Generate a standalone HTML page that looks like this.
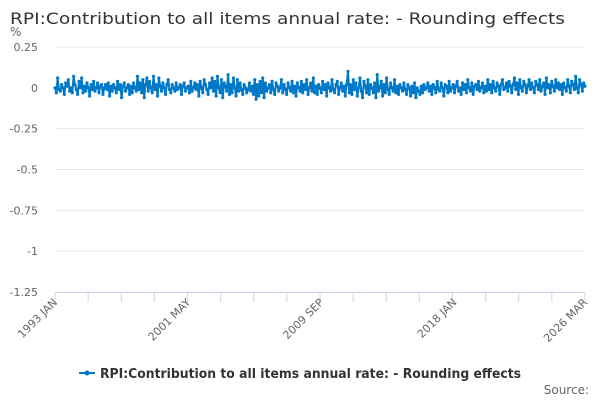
<!DOCTYPE html>
<html><head><meta charset="utf-8"><style>
body{margin:0;background:#fff;}
svg{display:block;font-family:"DejaVu Sans","Liberation Sans",sans-serif;}
</style></head><body>
<svg id="chart" width="600" height="400" viewBox="0 0 600 400">
<text x="10" y="24" font-size="16" fill="#333" textLength="555" lengthAdjust="spacingAndGlyphs">RPI:Contribution to all items annual rate: - Rounding effects</text>
<text x="10" y="36" font-size="12" fill="#666">%</text>
<g id="grid"></g><g id="xaxis"></g><g id="series"></g>
<g>
<line x1="79" y1="373" x2="95" y2="373" stroke="#0078c8" stroke-width="2"/>
<circle cx="87" cy="373" r="2.5" fill="#0078c8"/>
<text x="100" y="378" font-size="13" font-weight="bold" fill="#333" textLength="421" lengthAdjust="spacingAndGlyphs">RPI:Contribution to all items annual rate: - Rounding effects</text>
</g>
<text x="589" y="394" text-anchor="end" font-size="12" fill="#666">Source:</text>
</svg>
<script>
const yTicks=[0.25,0,-0.25,-0.5,-0.75,-1,-1.25];
const yTickLabels=["0.25","0","-0.25","-0.5","-0.75","-1","-1.25"];
const xLabels=["1993 JAN","2001 MAY","2009 SEP","2018 JAN","2026 MAR"];
const xLabelMonths=[0,100,200,300,398];
const values=[
0,-3,6,-1,-2,2,0,-4,3,1,5,-2,0,-3,7,2,-1,-4,4,0,
6,-3,1,-2,3,0,-5,2,-1,4,-2,0,3,-3,1,2,-4,0,2,-1,
3,-5,1,-2,2,0,-3,4,-1,2,-6,1,3,-2,0,2,-4,1,-3,3,
0,-2,7,-1,3,-3,5,-6,2,6,-2,4,0,-3,7,-1,2,-5,6,1,
-2,3,0,-4,2,5,-1,-3,2,0,-2,3,-1,0,2,-4,1,3,-2,0,
1,-3,4,-2,0,3,-1,2,-5,4,0,-3,5,2,-1,-4,3,0,6,-2,
4,-5,7,0,-3,5,-6,3,1,-2,8,-4,2,-3,6,0,-5,5,-2,3,
-1,-4,2,0,-3,-1,3,-2,1,-4,5,-7,2,-5,4,-3,6,-6,3,-2,
0,2,-3,4,-1,-4,3,1,-2,0,5,-3,2,-1,-4,3,0,-2,4,-3,
1,-5,3,0,-2,4,-3,2,-1,5,-4,0,3,-2,6,-3,1,-4,2,0,
-3,4,-1,2,-5,3,0,-2,5,-1,-3,2,4,-4,0,3,-2,1,-5,2,
10,-3,2,-4,5,-1,3,-5,0,6,-2,-6,4,1,-3,5,-4,2,0,-3,
3,-6,8,-2,0,4,-5,2,-3,6,-1,-4,3,0,-2,5,-3,1,-4,2,
0,-2,3,-1,-4,2,0,-5,1,-3,3,-6,0,-2,-4,1,-3,2,-1,0,
3,-2,1,-4,2,0,-3,4,-1,-2,3,0,-5,2,1,-3,4,-2,0,2,
-3,1,4,-2,0,-4,3,-1,2,-3,5,0,-2,3,-4,1,2,-1,4,-2,
0,3,-3,1,-2,5,-1,2,-3,4,0,-2,3,1,-4,2,5,-1,0,3,
-2,4,1,-3,2,6,-1,3,-4,5,0,-2,4,2,-3,1,5,-1,3,0,
-3,4,2,-1,5,-2,1,3,-4,6,0,2,-3,4,1,-2,5,0,3,-1,
2,-4,3,0,-2,5,1,-3,4,2,-1,7,0,-3,5,2,-2,3,1
].map(v=>v/100);
const NS="http://www.w3.org/2000/svg";
const X0=55,X1=585,Y0=47,Y1=292,yMax=0.25,yMin=-1.25,nMonths=398;
const xs=i=>X0+(X1-X0)*i/nMonths;
const ys=v=>Y0+(yMax-v)/(yMax-yMin)*(Y1-Y0);
function mk(tag,attrs,parent){const e=document.createElementNS(NS,tag);for(const k in attrs)e.setAttribute(k,attrs[k]);parent.appendChild(e);return e;}
const grid=document.getElementById('grid');
yTicks.forEach((t,i)=>{
  const y=ys(t);
  if(i<yTicks.length-1){const g=mk('line',{x1:X0,x2:X1,y1:y,y2:y,stroke:'#e6e6e6','stroke-width':1},grid);
  
  }
  const tx=mk('text',{x:38,y:y+4,'text-anchor':'end','font-size':11,fill:'#666'},grid);
  tx.textContent=yTickLabels[i];
  
  
});
const xa=document.getElementById('xaxis');
const al=mk('line',{x1:X0,x2:X1,y1:Y1+0.5,y2:Y1+0.5,stroke:'#ccd6eb','stroke-width':1},xa);


for(let k=0;k<=16;k++){
  const x=X0+(X1-X0)*k/16;
  const tk=mk('line',{x1:x,x2:x,y1:Y1,y2:Y1+10,stroke:'#ccd6eb','stroke-width':1},xa);
  
  
}
xLabels.forEach((l,i)=>{
  const x=xs(xLabelMonths[i]);
  const t=mk('text',{x:x+3,y:Y1+11,'text-anchor':'end','font-size':11,fill:'#666',transform:`rotate(-45 ${x+3} ${Y1+11})`},xa);
  t.textContent=l;
  
  
});
const s=document.getElementById('series');
const p=mk('path',{d:values.map((v,i)=>(i?'L':'M')+xs(i).toFixed(2)+' '+ys(v).toFixed(2)).join(''),fill:'none',stroke:'#0078c8','stroke-width':2,'stroke-linejoin':'round'},s);


values.forEach((v,i)=>{
  const c=mk('circle',{cx:xs(i),cy:ys(v),r:1.6,fill:'#0078c8'},s);
  
  
});
</script>
</body></html>
